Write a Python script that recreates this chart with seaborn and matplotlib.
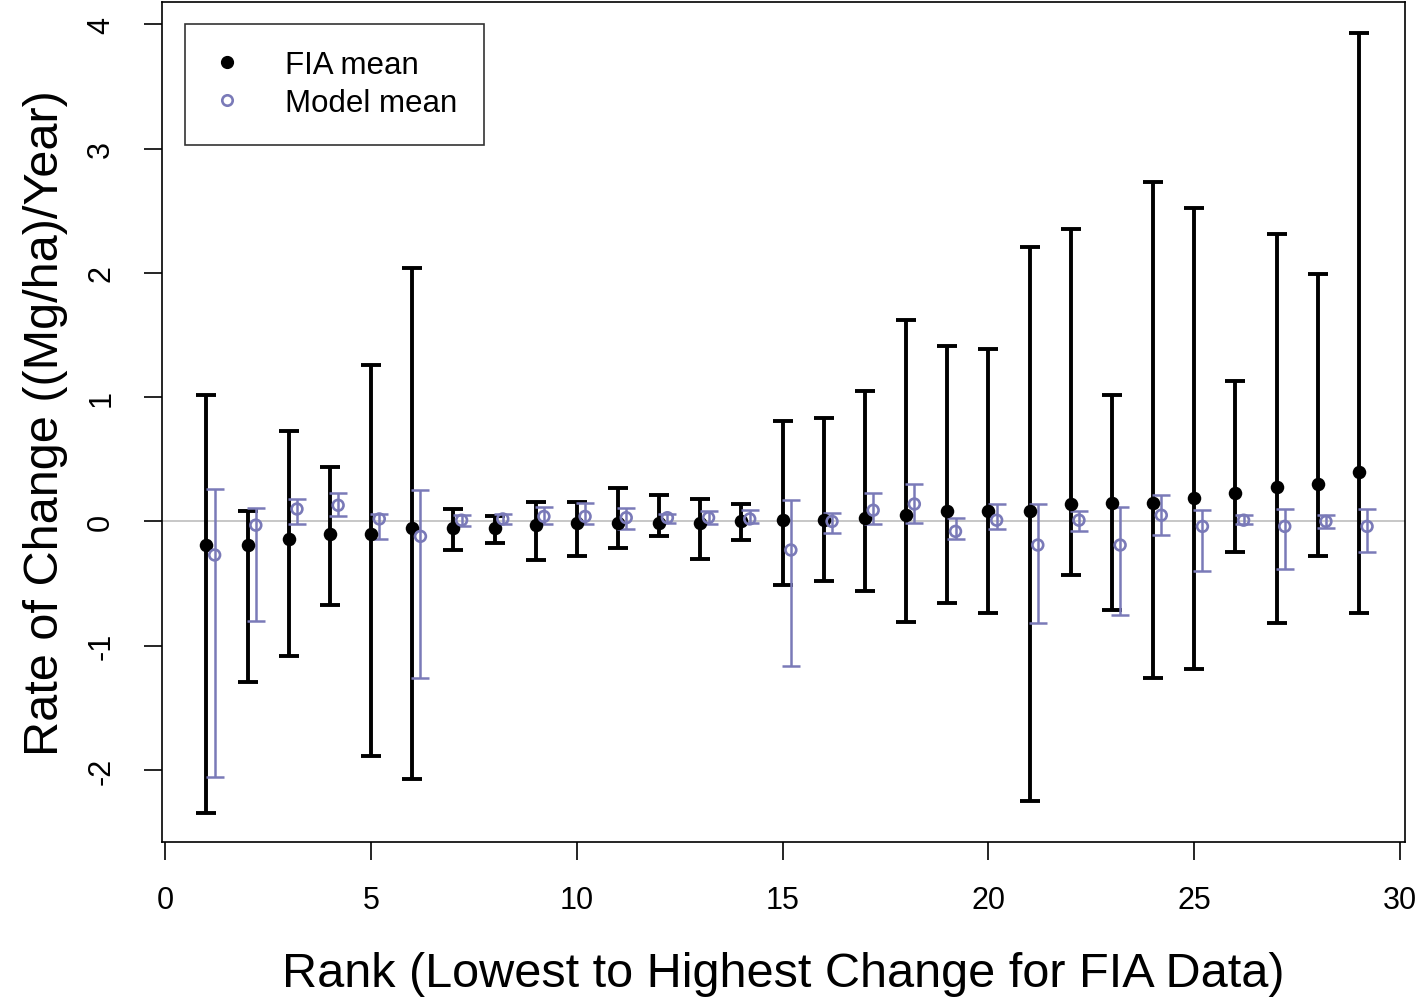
import numpy as np
import pandas as pd
import matplotlib
matplotlib.use("Agg")
import matplotlib.pyplot as plt
import seaborn as sns
from matplotlib.lines import Line2D

# FIA data (mean with lower / upper interval), ranks 1..29
rank = list(range(1, 30))
fia_mean = [-0.19, -0.19, -0.14, -0.10, -0.10, -0.05, -0.05, -0.05, -0.03, -0.01,
            -0.01, -0.01, -0.01, 0.00, 0.01, 0.01, 0.03, 0.05, 0.08, 0.08,
            0.08, 0.14, 0.15, 0.15, 0.19, 0.23, 0.28, 0.30, 0.40]
fia_upper = [1.02, 0.08, 0.73, 0.44, 1.26, 2.04, 0.10, 0.04, 0.16, 0.16,
             0.27, 0.21, 0.18, 0.14, 0.81, 0.83, 1.05, 1.62, 1.41, 1.39,
             2.21, 2.35, 1.02, 2.73, 2.52, 1.13, 2.31, 1.99, 3.93]
fia_lower = [-2.35, -1.29, -1.08, -0.67, -1.89, -2.07, -0.23, -0.17, -0.31, -0.28,
             -0.21, -0.12, -0.30, -0.15, -0.51, -0.48, -0.56, -0.81, -0.66, -0.74,
             -2.25, -0.43, -0.71, -1.26, -1.19, -0.25, -0.82, -0.28, -0.74]

# Model data
model_mean = [-0.27, -0.03, 0.10, 0.13, 0.02, -0.12, 0.01, 0.02, 0.04, 0.04,
              0.03, 0.03, 0.03, 0.02, -0.23, 0.00, 0.09, 0.14, -0.08, 0.01,
              -0.19, 0.01, -0.19, 0.05, -0.04, 0.01, -0.04, 0.00, -0.04]
model_upper = [0.26, 0.11, 0.18, 0.23, 0.06, 0.25, 0.05, 0.06, 0.12, 0.15,
               0.11, 0.06, 0.08, 0.09, 0.17, 0.07, 0.23, 0.30, 0.03, 0.14,
               0.14, 0.08, 0.12, 0.21, 0.09, 0.05, 0.10, 0.05, 0.10]
model_lower = [-2.06, -0.80, -0.02, 0.04, -0.14, -1.26, -0.04, -0.02, -0.02, -0.02,
               -0.06, -0.01, -0.02, -0.01, -1.16, -0.09, -0.02, -0.01, -0.14, -0.06,
               -0.82, -0.08, -0.75, -0.11, -0.40, -0.02, -0.38, -0.05, -0.25]
model_offset = 0.2

fia = pd.DataFrame({"rank": rank, "mean": fia_mean, "lo": fia_lower, "hi": fia_upper})
model = pd.DataFrame({"rank": np.array(rank) + model_offset, "mean": model_mean,
                      "lo": model_lower, "hi": model_upper})

blue = "#7A7AB8"

sns.set_style("ticks")
plt.rcParams["font.family"] = ["Liberation Sans", "DejaVu Sans"]
plt.rcParams["axes.unicode_minus"] = False
plt.rcParams["text.color"] = "black"
plt.rcParams["axes.labelcolor"] = "black"
plt.rcParams["xtick.color"] = "black"
plt.rcParams["ytick.color"] = "black"

fig = plt.figure(figsize=(14.16, 10.03), dpi=100)
ax = fig.add_axes([0.1144, 0.1595, 0.8778, 0.8375])

ax.axhline(0, color="#BDBDBD", lw=1.2, zorder=0)

# error bars
ax.errorbar(fia["rank"], fia["mean"],
            yerr=[fia["mean"] - fia["lo"], fia["hi"] - fia["mean"]],
            fmt="none", ecolor="black", elinewidth=2.8, capsize=7.5, capthick=2.8, zorder=2)
ax.errorbar(model["rank"], model["mean"],
            yerr=[model["mean"] - model["lo"], model["hi"] - model["mean"]],
            fmt="none", ecolor=blue, elinewidth=1.8, capsize=6.5, capthick=1.8, zorder=3)

# points
sns.scatterplot(data=fia, x="rank", y="mean", color="black", s=95, marker="o",
                edgecolor="black", linewidth=0, ax=ax, zorder=4)
sns.scatterplot(data=model, x="rank", y="mean", marker="o", s=60,
                facecolor="none", edgecolor=blue, linewidth=1.9, ax=ax, zorder=5)

ax.set_xlim(-0.08, 30.12)
ax.set_ylim(-2.58, 4.18)
ax.set_xticks(range(0, 31, 5))
ax.set_yticks(range(-2, 5))
ax.tick_params(axis="both", length=13, width=1.2, labelsize=22, color="black")
ax.tick_params(axis="x", pad=18)
ax.tick_params(axis="y", pad=20)
for lab in ax.get_yticklabels():
    lab.set_rotation(90)
    lab.set_va("center")
for sp in ax.spines.values():
    sp.set_visible(True)
    sp.set_linewidth(1.2)
    sp.set_color("black")

ax.set_xlabel("Rank (Lowest to Highest Change for FIA Data)", fontsize=35, labelpad=26)
ax.set_ylabel("Rate of Change ((Mg/ha)/Year)", fontsize=35, labelpad=13)

handles = [
    Line2D([], [], marker="o", color="black", linestyle="none", markersize=8.5),
    Line2D([], [], marker="o", markerfacecolor="none", markeredgecolor=blue,
           markeredgewidth=1.9, linestyle="none", markersize=7.5),
]
leg = ax.legend(handles, ["FIA mean", "Model mean"], loc="upper left",
                bbox_to_anchor=(0.0185, 0.974), borderaxespad=0, fontsize=22.5,
                frameon=True, fancybox=False, edgecolor="black",
                handletextpad=1.35, borderpad=0.85, labelspacing=0.25, handlelength=1.0)
leg.get_frame().set_linewidth(1.2)

fig.savefig("out.png", dpi=100)
